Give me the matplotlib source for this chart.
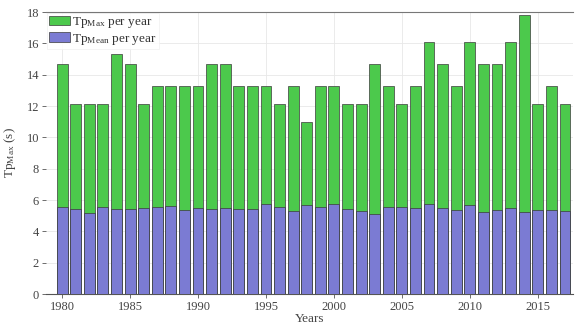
import matplotlib
matplotlib.use("Agg")
import matplotlib.pyplot as plt
import numpy as np

years = list(range(1980, 2018))
tp_max = [14.7, 12.1, 12.1, 12.1, 15.3, 14.7, 12.1, 13.3, 13.3, 13.3,
          13.3, 14.7, 14.7, 13.3, 13.3, 13.3, 12.1, 13.3, 11.0, 13.3,
          13.3, 12.1, 12.1, 14.7, 13.3, 12.1, 13.3, 16.1, 14.7, 13.3,
          16.1, 14.7, 14.7, 16.1, 17.8, 12.1, 13.3, 12.1]
tp_mean = [5.55, 5.45, 5.17, 5.56, 5.45, 5.43, 5.5, 5.56, 5.62, 5.37,
           5.47, 5.43, 5.47, 5.43, 5.43, 5.75, 5.54, 5.3, 5.7, 5.56,
           5.75, 5.43, 5.32, 5.13, 5.56, 5.56, 5.47, 5.73, 5.5, 5.35,
           5.69, 5.26, 5.37, 5.5, 5.26, 5.37, 5.35, 5.3]
xticks = [1980, 1985, 1990, 1995, 2000, 2005, 2010, 2015]
yticks = [0, 2, 4, 6, 8, 10, 12, 14, 16, 18]

plt.rcParams['font.family'] = ['Liberation Serif', 'DejaVu Serif']
plt.rcParams['mathtext.fontset'] = 'custom'
plt.rcParams['mathtext.rm'] = 'Liberation Serif'
plt.rcParams['mathtext.it'] = 'Liberation Serif'

fig = plt.figure(figsize=(5.76, 3.26), dpi=100)
ax = fig.add_axes([0.08, 0.098, 0.915, 0.865])

green = '#4cc94c'
purple = '#7b7bd3'
ax.bar(years, tp_max, width=0.8, color=green, edgecolor='#3a3a3a', linewidth=0.5,
       label='Tp$_{\\mathrm{Max}}$ per year', zorder=2)
ax.bar(years, tp_mean, width=0.8, color=purple, edgecolor='#3a3a3a', linewidth=0.5,
       label='Tp$_{\\mathrm{Mean}}$ per year', zorder=3)

ax.set_xlim(1978.82, 2017.6)
ax.set_ylim(0, 18)
ax.set_xticks(xticks)
ax.set_yticks(yticks)
ax.tick_params(axis='both', labelsize=9, length=3, width=0.6, color='#555555',
               labelcolor='#444444', pad=2)
ax.grid(True, color='#e8e8e8', linewidth=0.6, zorder=0)
ax.set_axisbelow(True)
for s in ['left', 'right']:
    ax.spines[s].set_visible(False)
ax.spines['top'].set_color('#777777')
ax.spines['top'].set_linewidth(0.8)
ax.spines['bottom'].set_color('#555555')
ax.spines['bottom'].set_linewidth(0.8)

ax.set_xlabel('Years', fontsize=9.5, color='#444444', labelpad=0)
ax.set_ylabel('Tp$_{\\mathrm{Max}}$ (s)', fontsize=9.5, color='#444444', labelpad=6)

leg = ax.legend(loc='upper left', fontsize=9.5, frameon=True, fancybox=False,
                handlelength=1.6, handleheight=0.7, handletextpad=0.15,
                borderpad=0.15, labelspacing=0.1, borderaxespad=0.1)
leg.get_frame().set_edgecolor('#eeeeee')
leg.get_frame().set_linewidth(0.5)
leg.get_frame().set_alpha(0.9)
leg.set_zorder(1)
for t in leg.get_texts():
    t.set_color('#333333')

fig.savefig('out.png', dpi=100)
